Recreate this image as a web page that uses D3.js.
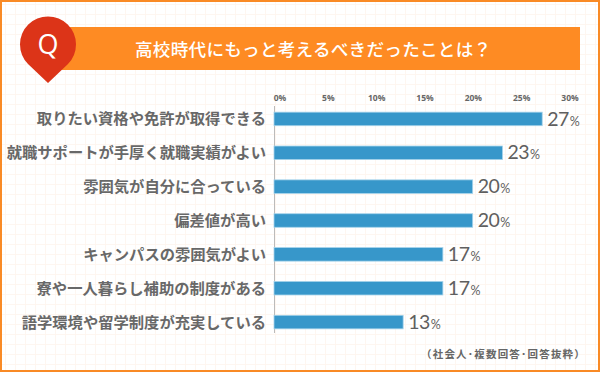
<!DOCTYPE html>
<html>
  <head>
    <meta charset="UTF-8">
    <style>
      html, body { margin: 0; padding: 0; background: #fff; }
      svg { display: block; font-family: "Noto Sans CJK JP", sans-serif; }
      .cat { fill: #686868; font-size: 15.3px; font-weight: 700; text-anchor: end; }
      .tick-label { fill: #666; font-size: 8.5px; font-weight: 700; text-anchor: middle; font-family: "Open Sans", sans-serif; }
      .val { fill: #5f5f5f; font-family: Lato, sans-serif; font-weight: 400; }
    </style>
    <script src="https://d3js.org/d3.v7.min.js"></script>
  </head>
  <body>
    <svg id="chart"></svg>
    <script>
      const categories = [
        '取りたい資格や免許が取得できる',
        '就職サポートが手厚く就職実績がよい',
        '雰囲気が自分に合っている',
        '偏差値が高い',
        'キャンパスの雰囲気がよい',
        '寮や一人暮らし補助の制度がある',
        '語学環境や留学制度が充実している'
      ]
      const values = [27, 23, 20, 20, 17, 17, 13]
      const tickValues = [0, 5, 10, 15, 20, 25, 30]
      const title = '高校時代にもっと考えるべきだったことは？'
      const note = '（社会人･複数回答･回答抜粋）'

      const width = 600
      const height = 372
      const svg = d3.select('#chart').attr('width', width).attr('height', height)

      // background grid
      const grid = svg.append('g').attr('stroke', '#fef6f0').attr('stroke-width', 1)
      grid.selectAll('.v').data(d3.range(5.5, width, 10)).enter().append('line')
        .attr('x1', d => d).attr('x2', d => d).attr('y1', 0).attr('y2', height)
      grid.selectAll('.h').data(d3.range(4.5, height, 10)).enter().append('line')
        .attr('y1', d => d).attr('y2', d => d).attr('x1', 0).attr('x2', width)

      svg.append('rect').attr('x', 1).attr('y', 1)
        .attr('width', width - 2).attr('height', height - 2)
        .attr('fill', 'none').attr('stroke', '#f98a25').attr('stroke-width', 2)

      // header
      svg.append('rect').attr('x', 60).attr('y', 27).attr('width', 520).attr('height', 43).attr('fill', '#fe8b23')
      svg.append('path').attr('d', 'M28 64A28 28 0 1 1 68 64L48 83Z').attr('fill', '#dc3418')
      svg.append('text').attr('x', 48).attr('y', 54).attr('text-anchor', 'middle')
        .attr('fill', '#fff').style('font-size', '27px').style('font-family', '"Open Sans", sans-serif').text('Q')
      svg.append('text').attr('x', 135).attr('y', 55.5)
        .attr('fill', '#fff').style('font-size', '17.6px').style('font-weight', 500).style('letter-spacing', '0.25px').text(title)

      const x = d3.scaleLinear().domain([0, 30]).range([274, 572])
      const y = d3.scaleBand().domain(categories).range([102, 339]).paddingInner(0.6).paddingOuter(0.3)
      // axis labels sit on a slightly tighter spacing than the bars
      const tickX = d3.scaleLinear().domain([0, 30]).range([280, 570])

      svg.append('g').selectAll('text').data(tickValues).enter().append('text')
        .attr('class', 'tick-label')
        .attr('x', d => tickX(d)).attr('y', 101)
        .text(d => d + '%')

      svg.append('line').attr('x1', 274.5).attr('x2', 274.5).attr('y1', 106).attr('y2', 333)
        .attr('stroke', '#bbb')

      const rows = svg.append('g').selectAll('g').data(categories).enter().append('g')

      rows.append('rect')
        .attr('x', x(0)).attr('y', d => y(d))
        .attr('width', (d, i) => x(values[i]) - x(0)).attr('height', y.bandwidth())
        .attr('fill', '#3797ca').attr('stroke', '#a6d3ea').attr('stroke-width', 0.8)

      rows.append('text').attr('class', 'cat')
        .attr('x', 266).attr('y', d => y(d) + y.bandwidth() / 2 + 5.5)
        .text(d => d)

      const labels = rows.append('text').attr('class', 'val')
        .attr('x', (d, i) => x(values[i]) + 5).attr('y', d => y(d) + y.bandwidth() / 2 + 6.7)
      labels.append('tspan').style('font-size', '19.5px').style('letter-spacing', '-0.5px').text((d, i) => values[i])
      labels.append('tspan').attr('dx', 1).style('font-size', '12.5px').text('%')

      svg.append('text').attr('x', 586).attr('y', 358).attr('text-anchor', 'end')
        .attr('fill', '#666').style('font-size', '10.5px').style('font-weight', 700).style('letter-spacing', '1.2px').text(note)
    </script>
  </body>
</html>
